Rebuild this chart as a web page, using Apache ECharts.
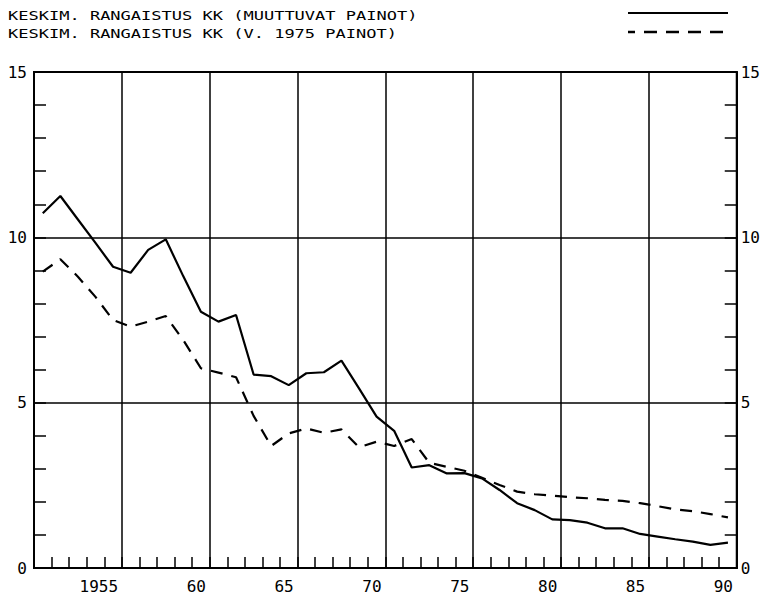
<!DOCTYPE html>
<html>
<head>
<meta charset="utf-8">
<script src="https://cdn.jsdelivr.net/npm/echarts@6/dist/echarts.min.js"></script>
<style>
html,body{margin:0;padding:0;background:#fff;}
#chart{width:763px;height:597px;}
</style>
</head>
<body>
<div id="chart"></div>
<script>
const years = ['1951','1952','1953','1954','1955','1956','1957','1958','1959','1960',
  '1961','1962','1963','1964','1965','1966','1967','1968','1969','1970',
  '1971','1972','1973','1974','1975','1976','1977','1978','1979','1980',
  '1981','1982','1983','1984','1985','1986','1987','1988','1989','1990'];
const muuttuvatPainot = [10.73,11.25,10.54,9.83,9.11,8.93,9.62,9.94,8.82,7.75,
  7.45,7.65,5.85,5.80,5.53,5.89,5.92,6.27,5.43,4.58,
  4.15,3.04,3.11,2.86,2.87,2.71,2.36,1.96,1.75,1.47,
  1.45,1.37,1.20,1.20,1.03,0.95,0.87,0.80,0.70,0.77];
const painot1975 = [8.96,9.34,8.81,8.20,7.50,7.30,7.45,7.62,6.89,6.04,
  5.91,5.77,4.60,3.69,4.07,4.22,4.09,4.19,3.65,3.82,
  3.69,3.90,3.18,3.06,2.94,2.73,2.51,2.31,2.23,2.19,
  2.14,2.11,2.06,2.03,1.96,1.87,1.77,1.72,1.63,1.53];
const labelYears = ['1955','1960','1965','1970','1975','1980','1985','1990'];
const labelTexts = ['1955','60','65','70','75','80','85','90'];
const seriesNames = ['KESKIM. RANGAISTUS KK (MUUTTUVAT PAINOT)', 'KESKIM. RANGAISTUS KK (V. 1975 PAINOT)'];

const chart = echarts.init(document.getElementById('chart'), null, {renderer: 'svg'});
const axisFont = "'DejaVu Sans Mono', monospace";
const black = '#000';
const option = {
  animation: false,
  backgroundColor: '#fff',
  grid: {left: 34, right: 25, top: 72, bottom: 29, show: true, borderColor: black, borderWidth: 2},
  graphic: [
    {type: 'text', x: 8, y: 16, scaleX: 1.31, style: {text: seriesNames[0], font: "13px 'DejaVu Sans Mono'", fill: black, align: 'left', verticalAlign: 'middle'}},
    {type: 'text', x: 8, y: 34, scaleX: 1.31, style: {text: seriesNames[1], font: "13px 'DejaVu Sans Mono'", fill: black, align: 'left', verticalAlign: 'middle'}},
    {type: 'line', shape: {x1: 628, y1: 13, x2: 728, y2: 13}, style: {stroke: black, lineWidth: 2}},
    {type: 'line', shape: {x1: 628, y1: 32, x2: 724, y2: 32}, style: {stroke: black, lineWidth: 2.5, lineDash: [13, 9], lineDashOffset: 6}}
  ],
  xAxis: {
    type: 'category', data: years, boundaryGap: true,
    axisLine: {show: true, lineStyle: {color: black, width: 2}},
    axisTick: {show: true, inside: true, length: 11, interval: 0, lineStyle: {color: black, width: 1.5}},
    splitLine: {show: true, interval: (i) => i % 5 === 0, lineStyle: {color: black, width: 1.5}},
    axisLabel: {
      interval: (i, v) => labelYears.indexOf(v) >= 0,
      formatter: (v) => labelTexts[labelYears.indexOf(v)],
      align: 'right', padding: [0, -5, 0, 0],
      margin: 10, color: black, fontFamily: axisFont, fontSize: 16
    }
  },
  yAxis: [
    {
      type: 'value', min: 0, max: 15, interval: 5, position: 'left',
      axisLine: {show: true, lineStyle: {color: black, width: 2}},
      axisTick: {show: true, inside: true, length: 12, lineStyle: {color: black, width: 1.5}},
      minorTick: {show: true, splitNumber: 5, length: 12, lineStyle: {color: black, width: 1.5}},
      splitLine: {show: true, lineStyle: {color: black, width: 1.5}},
      axisLabel: {margin: 7, color: black, fontFamily: axisFont, fontSize: 16}
    },
    {
      type: 'value', min: 0, max: 15, interval: 5, position: 'right',
      axisLine: {show: true, lineStyle: {color: black, width: 2}},
      axisTick: {show: true, inside: true, length: 12, lineStyle: {color: black, width: 1.5}},
      minorTick: {show: true, splitNumber: 5, length: 12, lineStyle: {color: black, width: 1.5}},
      splitLine: {show: false},
      axisLabel: {margin: 4, color: black, fontFamily: axisFont, fontSize: 16}
    }
  ],
  series: [
    {name: seriesNames[0], type: 'line', data: muuttuvatPainot, symbol: 'none', lineStyle: {color: black, width: 2.2}, z: 3},
    {name: seriesNames[1], type: 'line', data: painot1975, symbol: 'none', lineStyle: {color: black, width: 2.2, type: [12, 9]}, z: 3}
  ]
};
chart.setOption(option);
</script>
</body>
</html>
